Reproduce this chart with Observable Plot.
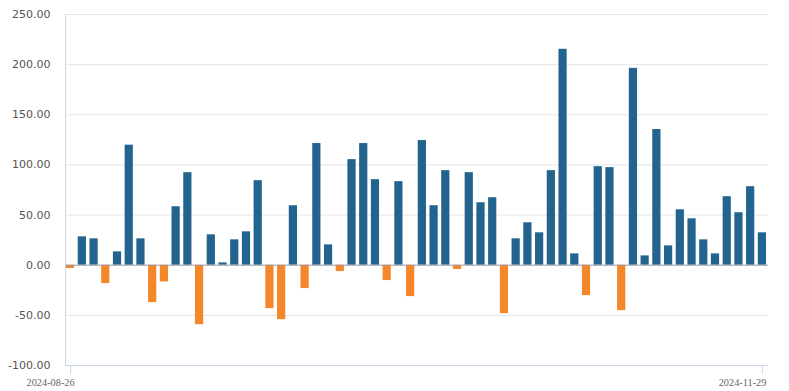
<!DOCTYPE html>
<html>
<head>
<meta charset="utf-8">
<script src="https://cdn.jsdelivr.net/npm/d3@7"></script>
<script src="https://cdn.jsdelivr.net/npm/@observablehq/plot@0.6"></script>
<style>
  html, body { margin: 0; padding: 0; background: #fff; }
  #chart svg { display: block; }
</style>
</head>
<body>
<div id="chart"></div>
<script>
// Daily values (60 trading days, 2024-08-26 .. 2024-11-29)
const values = [
  -3.3, 28.3, 26.3, -18.3, 13.3, 119.7, 26.3, -37.3, -16.7, 58.3,
  92.3, -59.3, 30.3, 2.3, 25.3, 33.3, 84.3, -43.3, -54.3, 59.3,
  -23.3, 121.3, 20.3, -6.3, 105.3, 121.3, 85.3, -15.3, 83.3, -31.3,
  124.3, 59.3, 94.3, -4.3, 92.3, 62.3, 67.3, -48.3, 26.3, 42.3,
  32.3, 94.3, 215.3, 11.3, -30.3, 98.3, 97.3, -45.3, 196.3, 9.3,
  135.3, 19.3, 55.3, 46.3, 25.3, 11.3, 68.3, 52.3, 78.3, 32.3
];
const xTickLabels = ["2024-08-26", "2024-11-29"];
const yTicks = [-100, -50, 0, 50, 100, 150, 200, 250];

const positiveColor = "#23648f";
const negativeColor = "#f5872b";

const data = values.map((v, i) => ({i, v}));
const xTickIdx = [0, values.length - 1];

const chart = Plot.plot({
  width: 789,
  height: 391,
  marginTop: 14,
  marginBottom: 26,
  marginLeft: 65,
  marginRight: 21,
  style: {background: "#fff"},
  x: {type: "band", domain: data.map(d => d.i), range: [66, 766], paddingInner: 0.3, paddingOuter: 0},
  y: {domain: [-100, 250]},
  marks: [
    Plot.gridY(yTicks.filter(t => t !== 0 && t !== -100), {stroke: "#e6e6e6", strokeOpacity: 1}),
    Plot.barY(data, {x: "i", y: "v", fill: d => d.v >= 0 ? positiveColor : negativeColor}),
    Plot.ruleY([0], {stroke: "#9a9aa6", strokeWidth: 1}),
    Plot.ruleY([-100], {stroke: "#ccd6eb"}),
    Plot.frame({anchor: "left", stroke: "#ccd6eb"}),
    Plot.axisY(yTicks, {
      tickSize: 0, tickPadding: 15,
      tickFormat: d => d.toFixed(2),
      fontFamily: "DejaVu Sans", fontSize: 11, fill: "#555", label: null
    }),
    // tick marks only
    Plot.axisX(xTickIdx, {
      tickSize: 9, stroke: "#ccd6eb", tickFormat: () => "", label: null
    }),
    // tick labels only, shifted
    Plot.axisX(xTickIdx, {
      tickSize: 0, tickPadding: 13,
      tickFormat: (d, k) => xTickLabels[k],
      textAnchor: "end", dx: 4,
      fontFamily: "Liberation Serif", fontSize: 10.3, fill: "#666", label: null
    })
  ]
});
document.getElementById("chart").appendChild(chart);
</script>
</body>
</html>
